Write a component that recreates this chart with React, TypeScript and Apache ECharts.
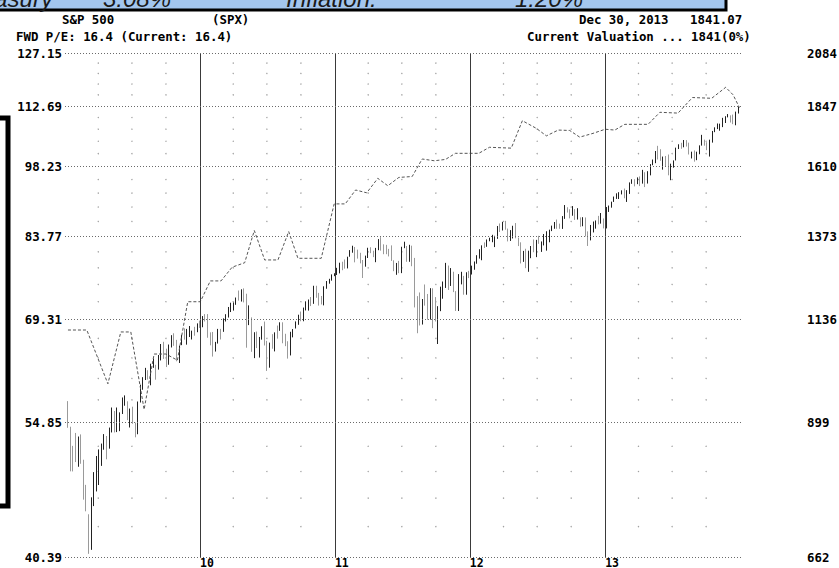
import React, { useEffect, useRef } from "react";
import * as echarts from "echarts";

// ---- axis ticks ----
const leftTicks = [40.39, 54.85, 69.31, 83.77, 98.23, 112.69, 127.15];
const leftTickLabels = ["40.39", "54.85", "69.31", "83.77", "98.23", "112.69", "127.15"];
const rightTicks = [662, 899, 1136, 1373, 1610, 1847, 2084];
const rightTickLabels = ["662", "899", "1136", "1373", "1610", "1847", "2084"];
const yearLines = ["2010-01-01", "2011-01-01", "2012-01-01", "2013-01-01"];
const yearLabels = ["10", "11", "12", "13"];
const quarterDates = [
  "2009-04-01", "2009-07-01", "2009-10-01",
  "2010-04-01", "2010-07-01", "2010-10-01",
  "2011-04-01", "2011-07-01", "2011-10-01",
  "2012-04-01", "2012-07-01", "2012-10-01",
  "2013-04-01", "2013-07-01", "2013-10-01",
];
const minorPerStep = 4;

// ---- forward EPS (left scale), dashed valuation line ----
const epsDates = [
  "2009-01-09", "2009-03-01", "2009-04-27", "2009-06-01", "2009-06-28", "2009-08-03", "2009-08-30",
  "2009-10-01", "2009-11-01", "2009-11-29", "2010-01-02", "2010-01-29", "2010-02-27", "2010-03-29",
  "2010-05-02", "2010-05-28", "2010-06-25", "2010-07-31", "2010-08-29", "2010-09-23", "2010-11-25",
  "2010-12-30", "2011-01-29", "2011-02-26", "2011-03-28", "2011-04-27", "2011-05-24", "2011-06-23",
  "2011-07-29", "2011-08-25", "2011-09-27", "2011-10-27", "2011-11-23", "2012-01-25", "2012-02-23",
  "2012-04-22", "2012-05-22", "2012-06-29", "2012-07-26", "2012-08-27", "2012-09-27", "2012-10-24",
  "2012-11-29", "2013-01-01", "2013-01-27", "2013-02-23", "2013-04-27", "2013-05-29", "2013-07-17",
  "2013-08-25", "2013-10-16", "2013-11-23", "2013-12-13", "2013-12-30",
];
const epsValues = [
  67.7, 67.7, 59.9, 67.4, 67.4, 56.5, 64.1,
  64.1, 63.2, 72.2, 72.2, 75.7, 75.7, 78.1,
  78.9, 84.9, 79.4, 79.4, 84.7, 79.7, 79.7,
  90.2, 90.2, 93.1, 92.5, 95.6, 94.0, 95.8,
  96.0, 99.9, 99.5, 99.8, 101.2, 101.2, 102.6,
  102.4, 109.0, 107.1, 105.3, 106.7, 106.6, 105.0,
  105.9, 106.9, 106.7, 108.1, 108.1, 111.1, 110.9,
  114.9, 114.7, 117.6, 115.6, 112.3,
];

// ---- weekly S&P 500 bars: [open, close, low, high] ----
const weekStart = { y2009: [2009, 0, 9], y2010: [2010, 0, 8], y2011: [2011, 0, 7], y2012: [2012, 0, 6], y2013: [2013, 0, 4] };
const spx2009 = [
  [929.2, 890.35, 888.3, 943.85], [890.4, 850.12, 804.47, 890.4], [849.6, 831.95, 804.3, 852.5], [832.2, 825.88, 821.6, 877.9],
  [825.4, 868.6, 812.9, 870.8], [868.2, 826.84, 818.4, 875.0], [818.4, 770.05, 754.25, 826.0], [770.0, 735.09, 734.52, 780.1],
  [729.6, 683.38, 666.79, 729.6], [684.0, 756.55, 672.88, 758.29], [758.8, 768.54, 743.3, 803.04], [771.0, 815.94, 768.5, 832.98],
  [809.1, 842.5, 779.8, 845.6], [842.0, 856.56, 814.5, 856.9], [856.9, 869.6, 845.0, 875.6], [868.3, 866.23, 826.8, 871.8],
  [862.8, 877.52, 847.1, 888.7], [879.2, 929.23, 878.9, 930.2], [922.9, 882.88, 878.9, 922.9], [886.1, 887.0, 879.6, 930.2],
  [887.0, 919.14, 881.5, 920.0], [923.3, 940.09, 916.6, 951.7], [940.1, 946.21, 934.0, 956.2], [943.4, 921.23, 903.8, 943.4],
  [918.1, 918.9, 888.9, 928.0], [919.0, 896.42, 896.4, 931.9], [894.3, 879.13, 869.3, 898.7], [880.0, 940.38, 875.3, 943.0],
  [942.1, 979.26, 940.9, 979.8], [979.3, 987.48, 968.6, 996.7], [990.2, 1010.48, 990.2, 1018.0], [1008.9, 1004.09, 991.2, 1012.6],
  [998.2, 1026.13, 978.5, 1027.6], [1026.6, 1028.93, 1018.1, 1039.5], [1025.2, 1016.4, 991.0, 1025.2], [1018.7, 1042.73, 1014.0, 1048.2],
  [1041.0, 1068.3, 1035.3, 1074.8], [1066.6, 1044.38, 1039.0, 1080.2], [1045.4, 1025.21, 1019.9, 1063.4], [1026.9, 1071.49, 1025.2, 1073.6],
  [1073.0, 1087.68, 1066.4, 1096.6], [1088.4, 1079.6, 1070.4, 1101.4], [1080.4, 1036.19, 1033.4, 1085.0], [1036.2, 1069.3, 1029.4, 1071.0],
  [1072.0, 1093.48, 1072.0, 1097.4], [1094.1, 1091.38, 1085.6, 1113.7], [1091.1, 1091.49, 1073.2, 1112.4], [1098.9, 1105.98, 1092.0, 1119.7],
  [1105.5, 1106.41, 1085.9, 1108.0], [1107.8, 1102.47, 1095.3, 1117.7], [1104.0, 1126.48, 1104.0, 1126.5], [1127.3, 1115.1, 1114.8, 1133.5],
];
const spx2010 = [
  [1116.6, 1144.98, 1116.6, 1145.4], [1145.0, 1136.03, 1131.4, 1150.4], [1136.0, 1091.76, 1090.2, 1150.5], [1092.0, 1073.87, 1071.6, 1103.7],
  [1073.9, 1066.19, 1044.5, 1104.7], [1065.5, 1075.51, 1056.5, 1080.0], [1075.9, 1109.17, 1075.9, 1112.4], [1110.0, 1104.49, 1086.0, 1112.4],
  [1105.0, 1138.7, 1105.0, 1139.4], [1138.4, 1149.99, 1131.3, 1150.2], [1148.0, 1159.9, 1141.5, 1169.3], [1157.0, 1166.59, 1155.9, 1180.7],
  [1167.7, 1178.1, 1159.7, 1181.4], [1178.7, 1194.37, 1175.1, 1194.7], [1194.9, 1192.13, 1186.4, 1213.9], [1192.0, 1217.28, 1183.8, 1217.3],
  [1217.0, 1186.69, 1181.6, 1219.8], [1188.6, 1110.88, 1065.8, 1205.1], [1122.0, 1135.68, 1122.0, 1173.6], [1136.5, 1087.69, 1055.9, 1141.9],
  [1084.8, 1089.41, 1040.8, 1104.0], [1087.3, 1064.88, 1064.9, 1105.7], [1064.9, 1091.6, 1042.2, 1092.2], [1091.2, 1117.51, 1085.5, 1119.1],
  [1117.7, 1076.76, 1071.2, 1131.2], [1076.2, 1022.58, 1010.9, 1082.6], [1022.1, 1077.96, 1018.4, 1078.2], [1077.2, 1064.88, 1063.3, 1099.1],
  [1064.5, 1102.66, 1056.9, 1103.7], [1102.9, 1101.6, 1088.0, 1120.9], [1107.5, 1121.64, 1107.5, 1129.2], [1122.8, 1079.25, 1076.6, 1129.2],
  [1081.2, 1071.69, 1069.6, 1100.1], [1073.4, 1064.59, 1039.7, 1081.6], [1062.9, 1104.51, 1047.2, 1105.1], [1102.6, 1109.55, 1091.2, 1112.0],
  [1113.4, 1125.59, 1113.4, 1131.5], [1126.4, 1148.67, 1122.8, 1148.9], [1148.6, 1146.24, 1131.9, 1157.2], [1143.6, 1165.15, 1131.9, 1167.7],
  [1165.3, 1176.19, 1160.1, 1184.4], [1176.8, 1183.08, 1159.7, 1189.4], [1184.7, 1183.26, 1171.7, 1196.1], [1185.7, 1225.85, 1177.7, 1227.1],
  [1226.0, 1199.21, 1194.1, 1227.1], [1200.4, 1199.73, 1173.0, 1207.4], [1200.0, 1189.4, 1176.0, 1198.9], [1189.1, 1224.71, 1173.6, 1225.6],
  [1224.0, 1240.4, 1218.8, 1240.4], [1241.8, 1243.91, 1232.9, 1246.7], [1243.6, 1256.77, 1241.5, 1259.3], [1256.8, 1257.64, 1254.2, 1262.6],
];
const spx2011 = [
  [1257.6, 1271.5, 1257.6, 1278.2], [1270.8, 1293.24, 1262.2, 1293.2], [1293.2, 1283.35, 1271.3, 1296.1], [1283.3, 1276.34, 1275.9, 1302.7],
  [1276.5, 1310.87, 1276.5, 1311.0], [1311.9, 1329.15, 1310.9, 1330.8], [1328.7, 1343.01, 1322.9, 1344.1], [1340.4, 1319.88, 1294.3, 1340.4],
  [1322.7, 1321.15, 1305.3, 1332.3], [1322.7, 1304.28, 1291.3, 1322.7], [1301.2, 1279.2, 1249.0, 1301.2], [1281.6, 1313.8, 1281.6, 1314.2],
  [1315.4, 1332.41, 1307.1, 1337.9], [1329.5, 1328.17, 1321.6, 1339.5], [1329.0, 1319.68, 1309.7, 1329.0], [1313.3, 1337.38, 1294.7, 1337.5],
  [1337.1, 1363.61, 1330.5, 1364.6], [1365.2, 1340.2, 1329.2, 1370.6], [1340.2, 1337.77, 1318.5, 1348.4], [1334.8, 1333.27, 1318.5, 1346.8],
  [1333.1, 1331.1, 1311.8, 1334.6], [1331.1, 1300.16, 1298.6, 1345.2], [1300.3, 1270.98, 1268.5, 1300.3], [1271.3, 1271.5, 1258.1, 1292.5],
  [1271.5, 1268.45, 1262.7, 1298.6], [1268.4, 1339.67, 1262.9, 1341.0], [1339.6, 1343.8, 1336.7, 1356.5], [1343.3, 1316.14, 1295.9, 1343.3],
  [1315.9, 1345.02, 1295.9, 1347.0], [1344.3, 1292.28, 1282.9, 1344.3], [1292.6, 1199.38, 1168.1, 1307.4], [1198.5, 1178.81, 1101.5, 1198.5],
  [1179.2, 1123.53, 1121.1, 1208.5], [1123.5, 1176.8, 1123.5, 1190.7], [1177.9, 1173.97, 1172.9, 1230.7], [1173.0, 1154.23, 1136.1, 1204.4],
  [1153.5, 1216.01, 1136.2, 1220.4], [1214.99, 1136.43, 1114.2, 1220.1], [1136.9, 1131.42, 1131.4, 1195.9], [1131.2, 1155.46, 1074.8, 1171.4],
  [1158.2, 1224.58, 1158.2, 1224.6], [1224.5, 1238.25, 1191.5, 1239.0], [1238.7, 1285.09, 1221.1, 1292.7], [1284.9, 1253.23, 1215.4, 1284.9],
  [1253.2, 1263.85, 1226.6, 1277.5], [1263.9, 1215.65, 1209.5, 1266.9], [1212.2, 1158.67, 1158.7, 1212.2], [1158.7, 1244.28, 1158.7, 1260.1],
  [1244.3, 1255.19, 1231.0, 1266.7], [1255.0, 1219.66, 1202.4, 1255.0], [1219.7, 1265.33, 1202.4, 1265.4], [1265.0, 1257.6, 1248.6, 1269.4],
];
const spx2012 = [
  [1258.9, 1277.81, 1258.9, 1284.6], [1277.8, 1289.09, 1272.7, 1296.8], [1290.2, 1315.38, 1290.2, 1315.5], [1315.3, 1316.33, 1305.3, 1333.5],
  [1316.2, 1344.9, 1300.5, 1345.3], [1344.3, 1342.64, 1337.2, 1354.3], [1343.1, 1361.23, 1340.8, 1363.4], [1361.2, 1365.74, 1357.8, 1368.9],
  [1365.2, 1369.63, 1354.9, 1378.0], [1369.6, 1370.87, 1340.0, 1374.8], [1370.8, 1404.17, 1365.3, 1405.9], [1404.2, 1397.11, 1386.9, 1414.0],
  [1397.1, 1408.47, 1391.6, 1419.2], [1408.5, 1398.08, 1394.1, 1422.4], [1397.5, 1370.26, 1357.4, 1397.5], [1370.3, 1378.53, 1358.8, 1392.8],
  [1378.5, 1403.36, 1366.6, 1406.6], [1397.9, 1369.1, 1367.0, 1415.3], [1368.8, 1353.39, 1343.1, 1369.1], [1351.9, 1295.22, 1291.1, 1354.6],
  [1295.7, 1317.82, 1295.7, 1328.5], [1317.8, 1278.04, 1277.3, 1334.9], [1278.0, 1325.66, 1266.7, 1329.1], [1325.7, 1342.84, 1306.6, 1343.3],
  [1342.4, 1335.02, 1324.4, 1363.5], [1334.9, 1362.16, 1309.7, 1362.2], [1362.3, 1354.68, 1350.0, 1374.8], [1354.7, 1356.78, 1325.4, 1357.3],
  [1356.5, 1362.66, 1345.1, 1380.4], [1362.3, 1385.97, 1329.2, 1389.2], [1385.9, 1390.99, 1354.7, 1394.2], [1391.0, 1405.87, 1389.6, 1407.1],
  [1405.9, 1418.16, 1397.0, 1418.7], [1418.1, 1411.13, 1397.0, 1426.7], [1411.1, 1406.58, 1397.0, 1413.5], [1406.5, 1437.92, 1396.6, 1437.9],
  [1438.4, 1465.77, 1428.9, 1474.5], [1465.4, 1460.15, 1449.6, 1467.1], [1460.3, 1440.67, 1430.5, 1460.3], [1440.9, 1460.93, 1439.1, 1470.96],
  [1460.9, 1428.59, 1425.5, 1460.9], [1428.8, 1433.19, 1426.7, 1464.0], [1433.2, 1411.94, 1403.3, 1433.8], [1412.0, 1414.2, 1405.1, 1434.3],
  [1414.0, 1379.85, 1373.0, 1433.4], [1380.1, 1359.88, 1343.4, 1388.8], [1360.6, 1409.15, 1360.6, 1409.2], [1409.0, 1416.18, 1385.4, 1420.3],
  [1416.3, 1418.07, 1397.4, 1423.7], [1418.1, 1413.58, 1411.0, 1438.6], [1413.5, 1430.15, 1413.5, 1448.0], [1430.2, 1402.43, 1398.1, 1430.2],
];
const spx2013 = [
  [1402.4, 1466.47, 1398.1, 1467.9], [1466.5, 1472.05, 1451.6, 1472.8], [1472.1, 1485.98, 1465.7, 1485.98], [1486.0, 1502.96, 1485.0, 1503.3],
  [1502.96, 1513.17, 1495.3, 1514.4], [1513.2, 1517.93, 1495.0, 1518.3], [1517.9, 1519.79, 1510.6, 1524.7], [1519.8, 1515.6, 1497.3, 1530.9],
  [1515.6, 1518.2, 1485.0, 1525.3], [1518.2, 1551.18, 1512.3, 1552.5], [1551.2, 1560.7, 1547.4, 1563.6], [1560.7, 1556.89, 1538.6, 1563.6],
  [1556.9, 1569.19, 1546.2, 1570.3], [1569.2, 1553.28, 1539.5, 1573.7], [1553.3, 1588.85, 1548.2, 1597.4], [1588.8, 1555.25, 1536.0, 1588.8],
  [1555.2, 1582.24, 1548.4, 1592.6], [1582.3, 1614.42, 1577.6, 1618.5], [1614.4, 1633.7, 1614.4, 1635.5], [1633.7, 1667.47, 1621.9, 1667.5],
  [1667.5, 1649.6, 1635.5, 1687.2], [1649.6, 1630.74, 1630.7, 1674.2], [1631.7, 1643.38, 1598.2, 1646.5], [1643.4, 1626.73, 1608.9, 1648.7],
  [1626.7, 1592.43, 1577.7, 1654.2], [1592.4, 1606.28, 1560.3, 1620.1], [1606.4, 1631.89, 1605.3, 1632.1], [1632.0, 1680.19, 1631.9, 1680.2],
  [1680.2, 1692.09, 1674.9, 1693.1], [1692.1, 1691.65, 1676.0, 1698.8], [1691.7, 1709.67, 1681.6, 1709.7], [1709.7, 1691.42, 1684.4, 1709.2],
  [1691.4, 1655.83, 1654.2, 1699.4], [1655.8, 1663.5, 1639.4, 1664.9], [1663.5, 1632.97, 1627.5, 1669.5], [1633.0, 1655.17, 1633.0, 1664.8],
  [1655.2, 1687.99, 1655.2, 1689.0], [1688.0, 1709.91, 1688.0, 1729.9], [1709.9, 1691.75, 1687.8, 1711.1], [1691.7, 1690.5, 1670.4, 1701.1],
  [1690.5, 1703.2, 1646.5, 1711.0], [1703.2, 1744.5, 1699.6, 1745.3], [1744.5, 1759.77, 1740.5, 1759.8], [1759.8, 1761.64, 1752.7, 1775.2],
  [1761.6, 1770.61, 1746.2, 1774.5], [1770.6, 1798.18, 1760.6, 1798.2], [1798.2, 1804.76, 1777.2, 1804.8], [1804.8, 1805.81, 1800.0, 1813.6],
  [1805.8, 1805.09, 1779.1, 1808.4], [1805.1, 1775.32, 1772.3, 1811.5], [1775.3, 1818.32, 1767.99, 1823.8], [1818.3, 1841.4, 1815.9, 1844.9],
];

const MONO = '"DejaVu Sans Mono", "Liberation Mono", monospace';
const SANS = '"Liberation Sans", Arial, sans-serif';

function weekly(start: number[], rows: number[][]) {
  return rows.map((r, i) => [new Date(start[0], start[1], start[2] + 7 * i).getTime(), r[0], r[1], r[2], r[3]]);
}

export default function App() {
  const ref = useRef<HTMLDivElement>(null);
  useEffect(() => {
    if (!ref.current) return;
    const chart = echarts.init(ref.current, undefined, { renderer: "svg" });

    const candles = [
      ...weekly(weekStart.y2009, spx2009),
      ...weekly(weekStart.y2010, spx2010),
      ...weekly(weekStart.y2011, spx2011),
      ...weekly(weekStart.y2012, spx2012),
      ...weekly(weekStart.y2013, spx2013),
    ];
    const eps = epsDates.map((d, i) => [d, epsValues[i]]);

    const minorVals: number[] = [];
    for (let i = 0; i < leftTicks.length - 1; i++) {
      const step = (leftTicks[i + 1] - leftTicks[i]) / (minorPerStep + 1);
      for (let k = 1; k <= minorPerStep; k++) minorVals.push(leftTicks[i] + step * k);
    }
    const dots: any[] = [];
    quarterDates.forEach((d) => minorVals.forEach((v) => dots.push([d, v])));

    const labelFont = { color: "#000", fontFamily: MONO, fontSize: 12.4, fontWeight: "bold" as const };

    const option: any = {
      animation: false,
      grid: { left: 65, right: 97, top: 53, bottom: 11, containLabel: false },
      xAxis: {
        type: "time",
        min: "2009-01-01",
        max: "2014-01-06",
        show: false,
      },
      yAxis: [
        { type: "log", logBase: 10, min: leftTicks[0], max: leftTicks[leftTicks.length - 1], show: false },
        { type: "log", logBase: 10, min: rightTicks[0], max: rightTicks[rightTicks.length - 1], show: false },
      ],
      series: [
        {
          type: "scatter",
          yAxisIndex: 0,
          data: dots,
          symbolSize: 1.4,
          silent: true,
          itemStyle: { color: "#8a8a8a" },
          z: 1,
        },
        {
          type: "candlestick",
          yAxisIndex: 1,
          data: candles,
          encode: { x: 0, y: [1, 2, 3, 4] },
          barWidth: 1.2,
          silent: true,
          itemStyle: {
            color: "#222",
            color0: "#9a9a9a",
            borderColor: "#222",
            borderColor0: "#9a9a9a",
            borderWidth: 1,
          },
          z: 3,
          markLine: {
            silent: true,
            symbol: ["none", "none"],
            animation: false,
            data: [
              ...yearLines.map((d, i) => ({
                xAxis: d,
                lineStyle: { color: "#3a3a3a", width: 1, type: "solid" },
                label: {
                  show: true, position: "start", align: "left", distance: 0, formatter: yearLabels[i],
                  ...labelFont, fontSize: 11.5,
                },
              })),
              ...rightTicks.map((v, i) => ({
                yAxis: v,
                lineStyle: { color: "rgba(0,0,0,0)", width: 0 },
                label: { show: true, position: "end", distance: 65, formatter: rightTickLabels[i], ...labelFont },
              })),
            ],
          },
        },
        {
          type: "line",
          yAxisIndex: 0,
          data: eps,
          symbol: "none",
          silent: true,
          lineStyle: { color: "#555", width: 1, type: [3, 2] },
          z: 4,
          markLine: {
            silent: true,
            symbol: ["none", "none"],
            animation: false,
            lineStyle: { color: "#6a6a6a", width: 1, type: [1, 2] },
            data: leftTicks.map((v, i) => ({
              yAxis: v,
              label: { show: true, position: "start", distance: 3, formatter: leftTickLabels[i], ...labelFont },
            })),
          },
        },
      ],
      graphic: [
        {
          type: "rect",
          shape: { x: -20, y: -40, width: 746, height: 50 },
          style: { fill: "#a3c6ee", stroke: "#000", lineWidth: 3 },
          z: 10,
        },
        { type: "text", x: -40, y: -1.5, style: { text: "Treasury", font: `italic 24px ${SANS}`, fill: "#1a1a1a", verticalAlign: "middle" }, z: 11 },
        { type: "text", x: 103, y: -1.5, style: { text: "3.08%", font: `italic 24px ${SANS}`, fill: "#1a1a1a", verticalAlign: "middle" }, z: 11 },
        { type: "text", x: 286, y: -1.5, style: { text: "Inflation:", font: `italic 24px ${SANS}`, fill: "#1a1a1a", verticalAlign: "middle" }, z: 11 },
        { type: "text", x: 515, y: -1.5, style: { text: "1.20%", font: `italic 24px ${SANS}`, fill: "#1a1a1a", verticalAlign: "middle" }, z: 11 },
        {
          type: "rect",
          shape: { x: -20, y: 118, width: 28, height: 388 },
          style: { fill: "transparent", stroke: "#000", lineWidth: 5 },
          z: 10,
        },
        { type: "text", x: 62, y: 19, style: { text: "S&P 500", font: `bold 12.4px ${MONO}`, fill: "#000", verticalAlign: "middle" }, z: 11 },
        { type: "text", x: 212, y: 19, style: { text: "(SPX)", font: `bold 12.4px ${MONO}`, fill: "#000", verticalAlign: "middle" }, z: 11 },
        { type: "text", x: 16, y: 36, style: { text: "FWD P/E: 16.4 (Current: 16.4)", font: `bold 12.4px ${MONO}`, fill: "#000", verticalAlign: "middle" }, z: 11 },
        { type: "text", x: 579, y: 19, style: { text: "Dec 30, 2013", font: `bold 12.4px ${MONO}`, fill: "#000", verticalAlign: "middle" }, z: 11 },
        { type: "text", x: 690, y: 19, style: { text: "1841.07", font: `bold 12.4px ${MONO}`, fill: "#000", verticalAlign: "middle" }, z: 11 },
        { type: "text", x: 527, y: 36, style: { text: "Current Valuation ... 1841(0%)", font: `bold 12.4px ${MONO}`, fill: "#000", verticalAlign: "middle" }, z: 11 },
      ],
    };
    chart.setOption(option);
    return () => chart.dispose();
  }, []);
  return (
    <div
      ref={ref}
      style={{ position: "fixed", left: 0, top: 0, width: 839, height: 568, background: "#fff" }}
    />
  );
}
